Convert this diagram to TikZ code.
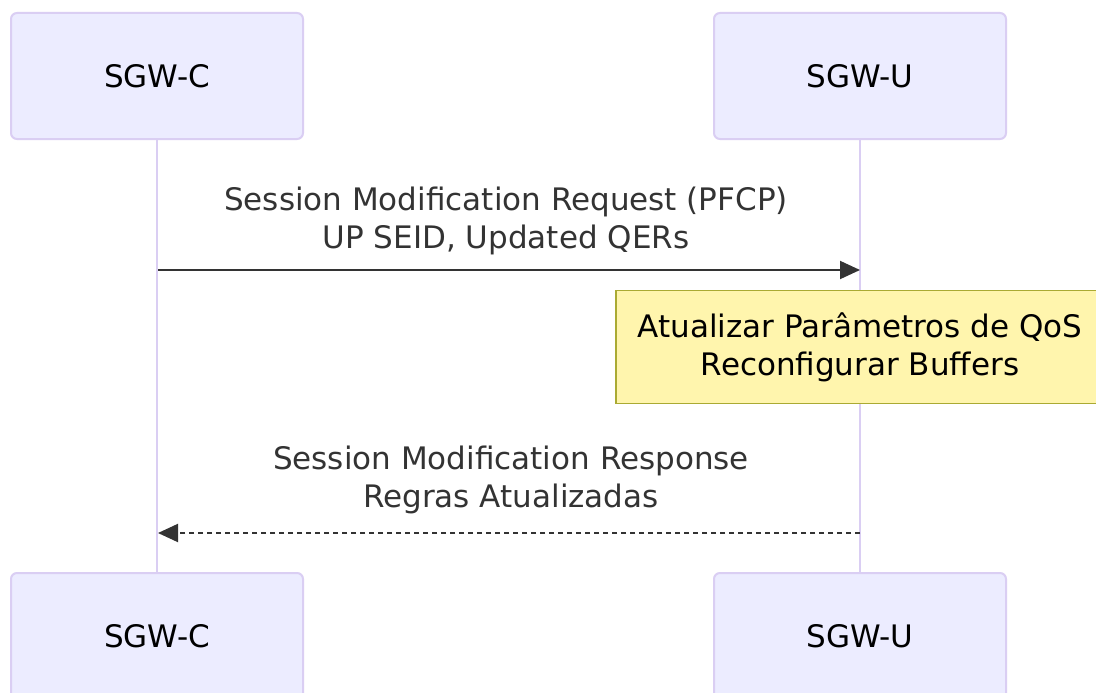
\documentclass[tikz,border=0pt]{standalone}
\usepackage{fontspec}
\setmainfont{DejaVu Sans}
\usetikzlibrary{arrows.meta}
\definecolor{actfill}{HTML}{ECECFF}
\definecolor{actline}{HTML}{DACEF3}
\definecolor{notefill}{HTML}{FFF5AD}
\definecolor{noteline}{HTML}{AAAA33}
\definecolor{msg}{HTML}{333333}
\begin{document}
\begin{tikzpicture}[x=1pt,y=-1pt,
  actor/.style={draw=actline,fill=actfill,line width=2pt,rounded corners=6pt,
    minimum width=292pt,minimum height=126pt,inner sep=0pt,
    font=\fontsize{31}{38}\selectfont,text=black},
  lifeline/.style={draw=actline,line width=2.5pt},
  msgtext/.style={font=\fontsize{31}{38}\selectfont,text=msg,align=center,inner sep=0pt},
  notebox/.style={draw=noteline,fill=notefill,line width=1.5pt,
    minimum width=488pt,minimum height=113pt,inner sep=0pt,
    font=\fontsize{31}{38}\selectfont,text=black,align=center},
  solidmsg/.style={draw=msg,line width=2pt,-{Triangle[length=20pt,width=18pt]}},
  dashmsg/.style={draw=msg,line width=2pt,dash pattern=on 5pt off 4pt,-{Triangle[length=20pt,width=18pt]}}
]
\useasboundingbox (0,0) rectangle (1096,693);
\fill[white] (0,0) rectangle (1096,693);
% actors
\node[actor] (ct) at (157,76) {SGW-C};
\node[actor] (ut) at (860,76) {SGW-U};
\node[actor] (cb) at (157,636) {SGW-C};
\node[actor] (ub) at (860,636) {SGW-U};
% lifelines
\draw[lifeline] (ct.south) -- (cb.north);
\draw[lifeline] (ut.south) -- (ub.north);
% message 1
\coordinate (m1s) at (158,270);
\coordinate (m1e) at (860,270);
\node[msgtext] (l1) at (506,221) {Session Modification Request (PFCP)\\UP SEID, Updated QERs};
\draw[solidmsg] (m1s) -- (m1e);
% note
\node[notebox] (note) at (860,347) {Atualizar Parâmetros de QoS\\Reconfigurar Buffers};
% message 2
\coordinate (m2s) at (860,533);
\coordinate (m2e) at (158,533);
\node[msgtext] (l2) at (511,480) {Session Modification Response\\Regras Atualizadas};
\draw[dashmsg] (m2s) -- (m2e);
\end{tikzpicture}
\end{document}
